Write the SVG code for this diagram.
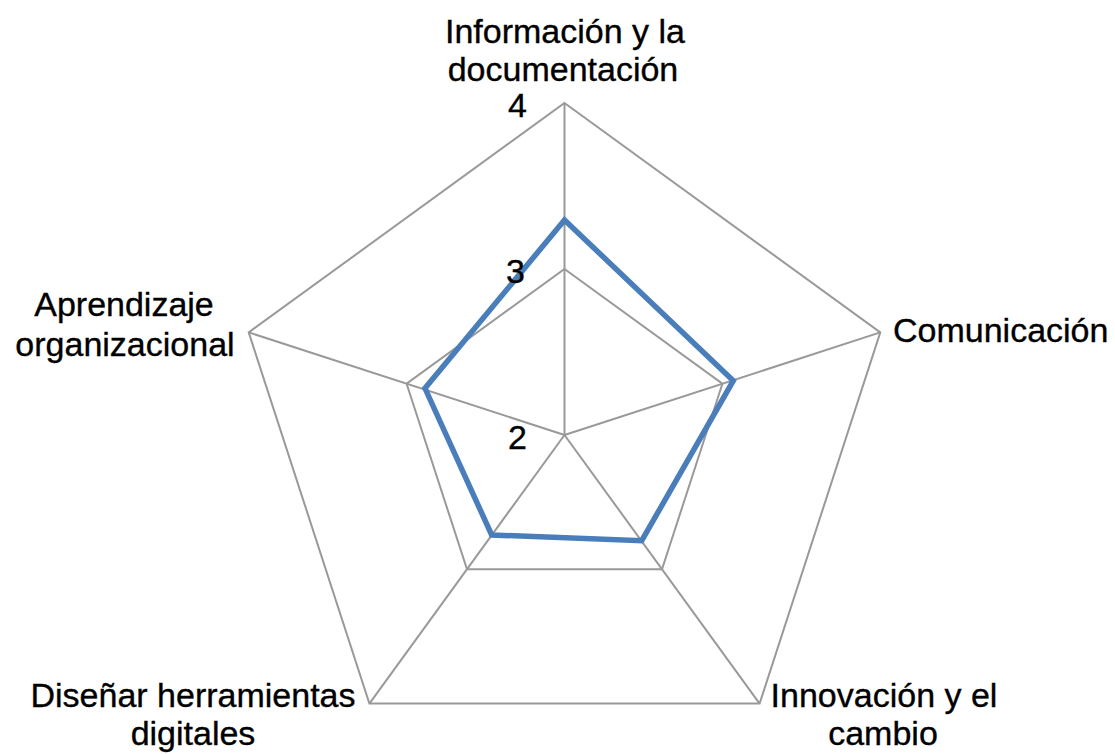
<svg xmlns="http://www.w3.org/2000/svg" width="1115" height="754" viewBox="0 0 1115 754">
  <style>
    .grid { fill: none; stroke: #999999; stroke-width: 2; stroke-linejoin: miter; }
    .axis { stroke: #999999; stroke-width: 2; }
    .series { fill: none; stroke: #4a7ebb; stroke-width: 5.5; stroke-linejoin: miter; }
    .lbl { font-family: "Liberation Sans", Arial, sans-serif; font-size: 34px; fill: #000000; stroke: #000000; stroke-width: 0.35; }
    .mid { text-anchor: middle; }
    .end { text-anchor: end; }
  </style>
  <rect width="1115" height="754" fill="#ffffff"/>
  <g id="grid">
    <polygon class="grid" points="564.5,103 880.3,332.4 759.6,703.6 369.4,703.6 248.7,332.4"/>
    <polygon class="grid" points="564.5,269 722.4,383.7 662,569.3 467,569.3 406.6,383.7"/>
  </g>
  <g id="connectors">
    <line class="axis" x1="564.5" y1="435" x2="564.5" y2="103"/>
    <line class="axis" x1="564.5" y1="435" x2="880.3" y2="332.4"/>
    <line class="axis" x1="564.5" y1="435" x2="759.6" y2="703.6"/>
    <line class="axis" x1="564.5" y1="435" x2="369.4" y2="703.6"/>
    <line class="axis" x1="564.5" y1="435" x2="248.7" y2="332.4"/>
  </g>
  <g id="series">
    <polygon class="series" points="564.5,220 733.3,380.7 641.7,540.7 491.7,535 425,388.3"/>
  </g>
  <g id="scale">
    <text class="lbl end" x="527" y="117">4</text>
    <text class="lbl end" x="525" y="283">3</text>
    <text class="lbl end" x="527" y="449">2</text>
  </g>
  <g id="node-informacion">
    <text class="lbl mid" x="565" y="43">Información y la</text>
    <text class="lbl mid" x="563" y="81">documentación</text>
  </g>
  <g id="node-comunicacion">
    <text class="lbl" x="893" y="342">Comunicación</text>
  </g>
  <g id="node-innovacion">
    <text class="lbl mid" x="884" y="707">Innovación y el</text>
    <text class="lbl mid" x="883" y="745">cambio</text>
  </g>
  <g id="node-disenar">
    <text class="lbl mid" x="193" y="707">Diseñar herramientas</text>
    <text class="lbl mid" x="193" y="745">digitales</text>
  </g>
  <g id="node-aprendizaje">
    <text class="lbl mid" x="124" y="316">Aprendizaje</text>
    <text class="lbl mid" x="125" y="356">organizacional</text>
  </g>
</svg>
